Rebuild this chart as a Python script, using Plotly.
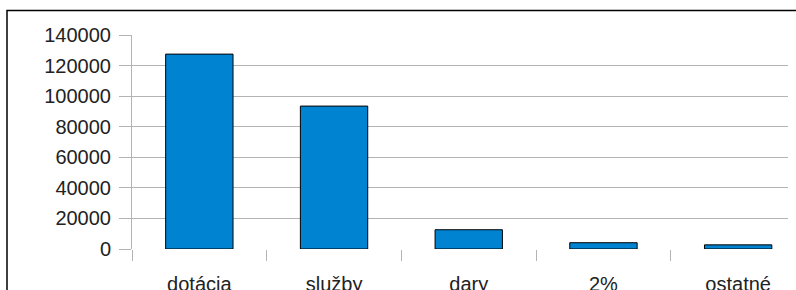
import plotly.graph_objects as go

categories = ["dotácia", "služby", "dary", "2%", "ostatné"]
values = [127500, 93500, 12600, 4100, 2700]
y_ticks = [0, 20000, 40000, 60000, 80000, 100000, 120000, 140000]

W, H = 796, 290
L, R, T, B = 132, 8, 35, 41
pw, ph = W - L - R, H - T - B

fig = go.Figure(go.Bar(
    x=categories, y=values, width=0.5,
    marker=dict(color="#0084D1", line=dict(color="#000000", width=1)),
))

cat_px = 134.7
x_end = -0.5 + pw / cat_px

fig.update_layout(
    width=W, height=H,
    margin=dict(l=L, r=R, t=T, b=B, pad=0, autoexpand=False),
    plot_bgcolor="white", paper_bgcolor="white",
    showlegend=False,
    font=dict(family="Liberation Sans, Arial, sans-serif", size=20, color="#222222"),
    xaxis=dict(
        type="category", range=[-0.5, x_end], automargin=False,
        tickson="boundaries", ticks="outside", ticklen=11, tickcolor="#b3b3b3",
        showgrid=False, showline=False, zeroline=False,
        ticklabelstandoff=21,
        tickfont=dict(size=20),
    ),
    yaxis=dict(
        range=[0, 140000], tickvals=y_ticks, ticktext=[str(v) for v in y_ticks],
        automargin=False,
        ticks="outside", ticklen=12, tickcolor="#b3b3b3",
        showgrid=True, gridcolor="#b3b3b3", gridwidth=1,
        showline=True, linecolor="#b3b3b3", linewidth=1,
        zeroline=False, ticklabelstandoff=4,
        tickfont=dict(size=20),
    ),
    shapes=[dict(
        type="rect", xref="paper", yref="paper",
        x0=(7 - L) / pw, x1=(W + 20 - L) / pw,
        y0=-(B + 20) / ph, y1=(H - B - 10.5) / ph,
        line=dict(color="#000000", width=1.5), fillcolor="rgba(0,0,0,0)", layer="above",
    )],
)

fig.write_html(
    "out.html",
    config={"displayModeBar": False},
    post_script="document.body.style.margin='0';document.body.style.overflow='hidden';",
)
